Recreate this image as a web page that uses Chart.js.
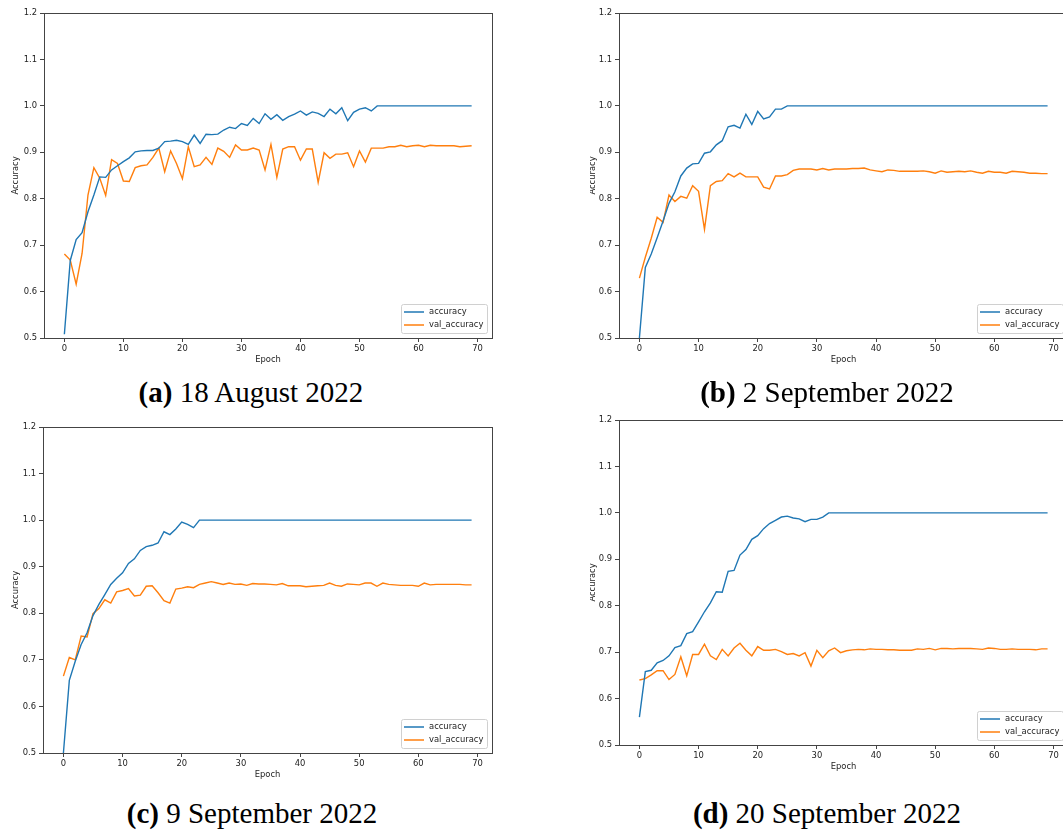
<!DOCTYPE html>
<html>
<head>
<meta charset="utf-8">
<script src="https://cdn.jsdelivr.net/npm/chart.js@4.4.1/dist/chart.umd.min.js"></script>
<style>
  html, body { margin: 0; padding: 0; background: #fff; overflow: hidden; }
  body { width: 1063px; height: 831px; position: relative; }
  .panel { position: absolute; overflow: hidden; }
  .panel canvas { position: absolute; top: 0; }
  .cap { position: absolute; width: 420px; margin-left: -210px; text-align: center;
         font-family: "Liberation Serif", "Times New Roman", serif; font-size: 29px;
         line-height: 29px; color: #000; white-space: nowrap; }
</style>
</head>
<body>
<div class="panel" style="left:0;top:0;width:520px;height:372px"><canvas id="chartA" width="520" height="372" style="left:0"></canvas></div>
<div class="panel" style="left:590px;top:0;width:473px;height:372px"><canvas id="chartB" width="500" height="372" style="left:-15px"></canvas></div>
<div class="panel" style="left:0;top:415px;width:520px;height:372px"><canvas id="chartC" width="520" height="372" style="left:0"></canvas></div>
<div class="panel" style="left:590px;top:407px;width:473px;height:372px"><canvas id="chartD" width="500" height="372" style="left:-15px"></canvas></div>

<div class="cap" style="left:251px;top:378px"><b>(a)</b> 18 August 2022</div>
<div class="cap" style="left:827px;top:378px"><b>(b)</b> 2 September 2022</div>
<div class="cap" style="left:252px;top:799px"><b>(c)</b> 9 September 2022</div>
<div class="cap" style="left:827px;top:799px"><b>(d)</b> 20 September 2022</div>

<script>
// epochs (x values) and tick labels
const epochs = [0,1,2,3,4,5,6,7,8,9,10,11,12,13,14,15,16,17,18,19,20,21,22,23,24,25,26,27,28,29,
  30,31,32,33,34,35,36,37,38,39,40,41,42,43,44,45,46,47,48,49,50,51,52,53,54,55,56,57,58,59,
  60,61,62,63,64,65,66,67,68,69];
const xTicks = [0, 10, 20, 30, 40, 50, 60, 70];
const yTicks = [0.5, 0.6, 0.7, 0.8, 0.9, 1.0, 1.1, 1.2];

// (a) 18 August 2022
const accA = [0.508,0.667,0.712,0.727,0.772,0.808,0.847,0.846,0.862,0.871,0.880,0.888,0.901,0.903,0.904,0.904,
  0.909,0.923,0.924,0.926,0.923,0.917,0.937,0.919,0.939,0.938,0.939,0.948,0.954,0.951,0.962,0.958,0.973,0.962,
  0.983,0.971,0.981,0.969,0.977,0.982,0.989,0.980,0.987,0.984,0.977,0.993,0.983,0.996,0.968,0.986,0.993,0.996,
  0.989,1.0,1.0,1.0,1.0,1.0,1.0,1.0,1.0,1.0,1.0,1.0,1.0,1.0,1.0,1.0,1.0,1.0];
const valA = [0.681,0.668,0.616,0.682,0.808,0.867,0.844,0.807,0.884,0.876,0.838,0.837,0.867,0.871,0.873,0.889,
  0.909,0.858,0.903,0.876,0.843,0.912,0.869,0.873,0.889,0.874,0.909,0.902,0.889,0.916,0.905,0.905,0.909,0.905,
  0.862,0.917,0.846,0.907,0.912,0.912,0.883,0.907,0.907,0.835,0.899,0.887,0.896,0.896,0.899,0.869,0.903,0.879,
  0.909,0.909,0.909,0.912,0.912,0.915,0.912,0.914,0.915,0.912,0.915,0.914,0.914,0.914,0.914,0.912,0.913,0.914];

// (b) 2 September 2022
const accB = [0.500,0.652,0.681,0.716,0.752,0.790,0.815,0.849,0.866,0.875,0.876,0.898,0.901,0.916,0.925,0.955,
  0.958,0.952,0.982,0.960,0.988,0.972,0.976,0.993,0.993,1.0,1.0,1.0,1.0,1.0,1.0,1.0,1.0,1.0,1.0,1.0,1.0,1.0,
  1.0,1.0,1.0,1.0,1.0,1.0,1.0,1.0,1.0,1.0,1.0,1.0,1.0,1.0,1.0,1.0,1.0,1.0,1.0,1.0,1.0,1.0,1.0,1.0,1.0,1.0,
  1.0,1.0,1.0,1.0,1.0,1.0];
const valB = [0.629,0.674,0.715,0.760,0.749,0.808,0.794,0.805,0.801,0.828,0.816,0.734,0.828,0.837,0.839,0.854,
  0.847,0.855,0.847,0.847,0.847,0.825,0.821,0.849,0.849,0.852,0.861,0.864,0.864,0.864,0.862,0.865,0.862,0.864,
  0.864,0.864,0.865,0.865,0.866,0.862,0.860,0.858,0.862,0.861,0.859,0.859,0.859,0.859,0.860,0.858,0.855,0.860,
  0.857,0.858,0.859,0.858,0.860,0.857,0.855,0.859,0.857,0.857,0.855,0.859,0.858,0.857,0.855,0.855,0.854,0.854];

// (c) 9 September 2022
const accC = [0.500,0.656,0.697,0.733,0.758,0.795,0.819,0.840,0.862,0.875,0.887,0.907,0.917,0.935,0.943,0.946,
  0.951,0.975,0.969,0.981,0.996,0.991,0.984,1.0,1.0,1.0,1.0,1.0,1.0,1.0,1.0,1.0,1.0,1.0,1.0,1.0,1.0,1.0,1.0,
  1.0,1.0,1.0,1.0,1.0,1.0,1.0,1.0,1.0,1.0,1.0,1.0,1.0,1.0,1.0,1.0,1.0,1.0,1.0,1.0,1.0,1.0,1.0,1.0,1.0,1.0,
  1.0,1.0,1.0,1.0,1.0];
const valC = [0.665,0.705,0.700,0.751,0.749,0.799,0.810,0.829,0.822,0.846,0.849,0.853,0.837,0.839,0.858,0.859,
  0.844,0.827,0.822,0.852,0.854,0.857,0.855,0.862,0.865,0.868,0.865,0.862,0.865,0.862,0.863,0.860,0.864,0.863,
  0.863,0.862,0.861,0.864,0.859,0.859,0.859,0.857,0.858,0.859,0.860,0.865,0.860,0.858,0.863,0.862,0.861,0.865,
  0.865,0.858,0.865,0.862,0.861,0.860,0.860,0.860,0.858,0.865,0.861,0.862,0.862,0.862,0.862,0.862,0.861,0.861];

// (d) 20 September 2022
const accD = [0.560,0.658,0.661,0.677,0.682,0.692,0.710,0.714,0.740,0.744,0.765,0.787,0.806,0.830,0.829,0.874,
  0.876,0.909,0.921,0.943,0.951,0.966,0.977,0.984,0.991,0.993,0.989,0.987,0.981,0.986,0.986,0.991,1.0,1.0,1.0,
  1.0,1.0,1.0,1.0,1.0,1.0,1.0,1.0,1.0,1.0,1.0,1.0,1.0,1.0,1.0,1.0,1.0,1.0,1.0,1.0,1.0,1.0,1.0,1.0,1.0,1.0,
  1.0,1.0,1.0,1.0,1.0,1.0,1.0,1.0,1.0];
const valD = [0.640,0.643,0.651,0.660,0.660,0.641,0.652,0.690,0.649,0.695,0.695,0.717,0.692,0.684,0.706,0.692,
  0.709,0.719,0.704,0.692,0.712,0.704,0.704,0.706,0.701,0.695,0.697,0.692,0.699,0.670,0.704,0.688,0.703,0.709,
  0.699,0.703,0.705,0.706,0.705,0.707,0.706,0.706,0.705,0.705,0.704,0.704,0.704,0.707,0.706,0.708,0.705,0.708,
  0.708,0.707,0.708,0.708,0.708,0.707,0.706,0.709,0.708,0.706,0.706,0.707,0.706,0.706,0.706,0.705,0.707,0.707];

const fontSize = 8.4;
const textColor = '#222';
const axisColor = '#444';

Chart.defaults.font.family = '"DejaVu Sans", sans-serif';
Chart.defaults.font.size = fontSize;
Chart.defaults.color = textColor;

// matplotlib-like frame and a lower-right legend
const mplBox = {
  id: 'mplBox',
  afterDatasetsDraw(chart) {
    const { ctx, chartArea: a } = chart;
    ctx.save();
    ctx.strokeStyle = axisColor;
    ctx.lineWidth = 1;
    ctx.strokeRect(a.left + 0.5, a.top + 0.5, a.right - a.left, a.bottom - a.top);
    ctx.restore();
  },
  afterDraw(chart) {
    const { ctx, chartArea: a } = chart;
    const sets = chart.data.datasets;
    ctx.save();
    ctx.font = fontSize + 'px "DejaVu Sans"';
    const textW = Math.max(...sets.map(d => ctx.measureText(d.label).width));
    const w = Math.round(3 + 20 + 5 + textW + 4), h = 29;
    const x = Math.round(a.right - 5 - w), y = Math.round(a.bottom - 5 - h);
    ctx.beginPath();
    ctx.roundRect(x + 0.5, y + 0.5, w, h, 2);
    ctx.fillStyle = 'rgba(255,255,255,0.8)';
    ctx.fill();
    ctx.strokeStyle = '#d0d0d0';
    ctx.lineWidth = 1;
    ctx.stroke();
    sets.forEach((d, i) => {
      const ly = y + 8 + i * 13;
      ctx.strokeStyle = d.borderColor;
      ctx.lineWidth = 1.5;
      ctx.beginPath();
      ctx.moveTo(x + 3, ly);
      ctx.lineTo(x + 23, ly);
      ctx.stroke();
      ctx.fillStyle = textColor;
      ctx.textBaseline = 'middle';
      ctx.textAlign = 'left';
      ctx.fillText(d.label, x + 28, ly);
    });
    ctx.restore();
  }
};

function makeChart(id, acc, val, yWidth, padTop, padRight, titlePad) {
  return new Chart(document.getElementById(id), {
    type: 'line',
    data: {
      datasets: [
        { label: 'accuracy', data: epochs.map((e, i) => ({ x: e, y: acc[i] })),
          borderColor: '#1f77b4', backgroundColor: '#1f77b4', borderWidth: 1.4, pointRadius: 0, tension: 0 },
        { label: 'val_accuracy', data: epochs.map((e, i) => ({ x: e, y: val[i] })),
          borderColor: '#ff7f0e', backgroundColor: '#ff7f0e', borderWidth: 1.4, pointRadius: 0, tension: 0 }
      ]
    },
    options: {
      responsive: false,
      animation: false,
      layout: { padding: { top: padTop, right: padRight, bottom: 4, left: 0 } },
      plugins: { legend: { display: false }, tooltip: { enabled: false } },
      scales: {
        x: {
          type: 'linear',
          min: -3.45,
          max: 72.45,
          afterBuildTicks: s => { s.ticks = xTicks.map(v => ({ value: v })); },
          afterFit: s => { s.height = 30; },
          ticks: { padding: 2, autoSkip: false, maxRotation: 0, color: textColor },
          grid: { drawOnChartArea: false, drawTicks: true, tickLength: 4, tickColor: axisColor },
          border: { display: false },
          title: { display: true, text: 'Epoch', color: textColor, padding: { top: 0, bottom: 3 } }
        },
        y: {
          min: 0.5,
          max: 1.2,
          afterBuildTicks: s => { s.ticks = yTicks.map(v => ({ value: v })); },
          afterFit: s => { s.width = yWidth; },
          ticks: { padding: 3, autoSkip: false, color: textColor, callback: v => v.toFixed(1) },
          grid: { drawOnChartArea: false, drawTicks: true, tickLength: 4, tickColor: axisColor },
          border: { display: false },
          title: { display: true, text: 'Accuracy', color: textColor, padding: { top: titlePad, bottom: 0 } }
        }
      }
    },
    plugins: [mplBox]
  });
}

makeChart('chartA', accA, valA, 44, 13, 28, 11);
makeChart('chartB', accB, valB, 44, 13, 7, 13);
makeChart('chartC', accC, valC, 43, 12, 28, 11);
makeChart('chartD', accD, valD, 44, 13, 7, 13);
</script>
</body>
</html>
